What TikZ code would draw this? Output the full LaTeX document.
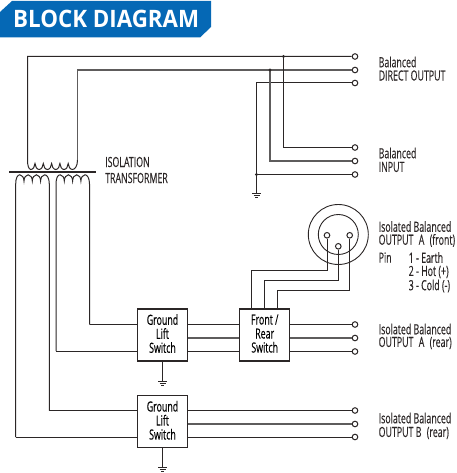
\documentclass[tikz,border=0pt]{standalone}
\usepackage{fontspec}
\setmainfont{Open Sans}
\newfontfamily\cond[FakeStretch=0.63,FakeBold=0.2]{Open Sans}
\usetikzlibrary{calc}
\definecolor{wire}{HTML}{2B2626}
\definecolor{wiregrey}{HTML}{5E5C5C}
\definecolor{banner}{HTML}{0568B5}
\newcommand{\lowpad}{\rule[-3pt]{0pt}{0pt}}
\tikzset{
 x=1pt,y=-1pt,
 wireline/.style={draw=wire,line width=1pt},
 midline/.style={draw=wiregrey,line width=1.4pt},
 term/.style={circle,draw=wire,fill=white,line width=1pt,minimum size=5.6pt,inner sep=0pt},
 block/.style={draw=wire,fill=white,line width=1.1pt,minimum width=50.4pt,minimum height=52pt,inner sep=0pt,align=center,font=\cond\fontsize{14}{14}\selectfont},
 lab/.style={anchor=west,inner sep=0pt,text=wire,font=\cond\fontsize{14}{14}\selectfont},
 gnd/.pic={\draw[wire,line width=.9pt] (-4.5,0)--(4.5,0) (-3,2)--(3,2) (-1.5,4)--(1.5,4);}
}
\begin{document}
\begin{tikzpicture}
\useasboundingbox (0,0) rectangle (456,473);
% banner
\fill[banner] (12,1)--(211,1)--(211,27)--(200,37.5)--(0,37.5)--(0,12)--cycle;
\node[anchor=west,inner sep=0pt,text=white,font=\fontsize{24}{26}\selectfont\bfseries] (title) at (13,19) {\addfontfeature{FakeStretch=0.93}BLOCK DIAGRAM};
% terminals
\foreach \n/\y in {d1/56.5,d2/70,d3/83,i1/147.5,i2/161,i3/174.5,a1/324.5,a2/338,a3/351.5,b1/410.5,b2/424,b3/437}
  \node[term] (\n) at (355,\y) {};
% blocks
\node[block] (gl1) at (162.5,335) {Ground\\Lift\\Switch\lowpad};
\node[block] (fr) at (264.7,335) {Front /\\Rear\\Switch\lowpad};
\node[block] (gl2) at (162.5,421.7) {Ground\\Lift\\Switch\lowpad};
% transformer core
\coordinate (coreL) at (9,171);\coordinate (coreR) at (96,171);
\draw[wire,line width=.9pt] (coreL)--(coreR) ($(coreL)+(0,1.9)$)--($(coreR)+(0,1.9)$);
% primary coil
\coordinate (p1) at (27.5,56.5);\coordinate (p2) at (77.5,70);
\draw[wireline] (d1)--(p1)--(27.5,160)
  .. controls (27.5,165) and (28.5,169.5) .. (30.85,169.5)
  \foreach \c in {35,43.3,51.6,59.9,68.2} {
   .. controls (\c-2,169.5) and (\c,166.5) .. (\c,163.5)
   .. controls (\c,166.5) and (\c+2,169.5) .. (\c+4.15,169.5) }
  .. controls (75,169.5) and (77.5,166) .. (77.5,160);
\draw[midline] (d2)--(p2)--(77.5,160);
% secondary coils
\coordinate (s1) at (15.7,437);\coordinate (s2) at (49.3,410.5);\coordinate (s3) at (56,351);\coordinate (s4) at (89.5,324.5);
\draw[wireline] (s1)--(15.7,184) .. controls (15.7,178) and (17.5,174.8) .. (19.85,174.8)
  \foreach \c in {24,32.3,40.6} {
   .. controls (\c-2,174.8) and (\c,177.5) .. (\c,181)
   .. controls (\c,177.5) and (\c+2,174.8) .. (\c+4.15,174.8) }
  .. controls (47,174.8) and (49.3,178) .. (49.3,184)--(s2);
\draw[wireline] (s3)--(56,184) .. controls (56,178) and (57.8,174.8) .. (60.15,174.8)
  \foreach \c in {64.3,72.6,80.9} {
   .. controls (\c-2,174.8) and (\c,177.5) .. (\c,181)
   .. controls (\c,177.5) and (\c+2,174.8) .. (\c+4.15,174.8) }
  .. controls (87.2,174.8) and (89.5,178) .. (89.5,184)--(s4);
\draw[wireline] (s1)--(gl2.west|-s1) (s2)--(gl2.west|-s2) (s3)--(gl1.west|-s3) (s4)--(gl1.west|-s4);
% direct output / input
\coordinate (j1) at (283.5,56.5);\coordinate (j2) at (270,70);\coordinate (j3) at (256.5,174.5);\coordinate (c3) at (256.5,83);
\draw[wireline] (d3)--(c3)--(j3)--(i3);
\draw[wireline] (j1)--(283.5,147.5)--(i1);
\draw[midline,line width=1.2pt] (j2)--(270,161)--(i2);
\fill[wire] (j1) circle (1.7pt) (j2) circle (1.7pt) (j3) circle (1.7pt);
\coordinate (g0) at (256.5,193.5);
\draw[wireline] (j3)--(g0);
\pic at (g0) {gnd};
% between blocks
\draw[wireline] (gl1.east|-a1)--(fr.west|-a1) (gl1.east|-a3)--(fr.west|-a3);
\draw[midline] (gl1.east|-a2)--(fr.west|-a2);
\draw[wireline] (fr.east|-a1)--(a1) (fr.east|-a3)--(a3);
\draw[midline] (fr.east|-a2)--(a2);
% block B
\draw[wireline] (gl2.east|-b1)--(b1) (gl2.east|-b3)--(b3);
\draw[midline] (gl2.east|-b2)--(b2);
% grounds
\coordinate (g1) at (162.5,381);\coordinate (g2) at (162.5,467);
\draw[wireline] (gl1.south)--(g1);\pic at (g1) {gnd};
\draw[wireline] (gl2.south)--(g2);\pic at (g2) {gnd};
% XLR
\node[circle,draw=wire,line width=.9pt,minimum size=60pt,inner sep=0pt] (xo) at (338.3,234.5) {};
\node[circle,draw=wire,line width=.9pt,minimum size=40pt,inner sep=0pt] (xi) at (338.3,234.5) {};
\node[term] (pin1) at (327,235.3) {};
\node[term] (pin2) at (338.3,246.3) {};
\node[term] (pin3) at (349.7,235.3) {};
\draw[wireline] (pin1)--(327,270.7)--(251,270.7)--(251,309);
\draw[wireline] (pin2)--(338.3,280.7)--(264.7,280.7)--(264.7,309);
\draw[wireline] (pin3)--(349.7,290.7)--(277.7,290.7)--(277.7,309);
% labels
\node[lab] (t1) at (105,162) {ISOLATION};
\node[lab] (t2) at (105,178) {TRANSFORMER};
\node[lab] (l1) at (378.5,62) {Balanced};
\node[lab] (l2) at (378.5,75.5) {DIRECT OUTPUT};
\node[lab] (l3) at (378.5,153) {Balanced};
\node[lab] (l4) at (378.5,167) {INPUT};
\node[lab] (l5) at (378.5,226.5) {Isolated Balanced};
\node[lab] (l6) at (378.5,240.5) {OUTPUT\hspace{3pt} A\hspace{3pt} (front)};
\node[lab] (l7) at (378.5,257.5) {Pin};
\node[lab] (l8) at (408.5,257.5) {1 - Earth};
\node[lab] (l9) at (408.5,272) {2 - Hot (+)};
\node[lab] (l10) at (408.5,286) {3 - Cold (-)};
\node[lab] (l11) at (378.5,329) {Isolated Balanced};
\node[lab] (l12) at (378.5,343) {OUTPUT\hspace{3pt} A\hspace{3pt} (rear)};
\node[lab] (l13) at (378.5,418) {Isolated Balanced};
\node[lab] (l14) at (378.5,433) {OUTPUT B\hspace{3pt} (rear)};
\end{tikzpicture}
\end{document}
